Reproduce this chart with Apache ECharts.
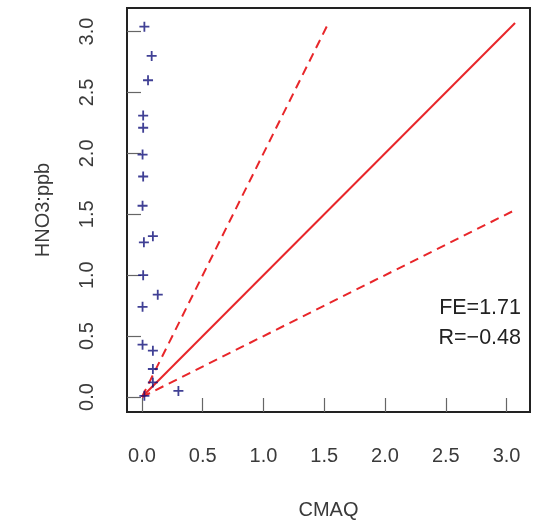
<!DOCTYPE html>
<html><head><meta charset="utf-8">
<script src="https://cdn.jsdelivr.net/npm/echarts@6/dist/echarts.min.js"></script>
<style>html,body{margin:0;padding:0;background:#fff}#c{width:537px;height:521px}</style>
</head><body><div id="c"></div>
<script>
// Observations: CMAQ (x) vs HNO3:ppb (y)
const cmaq = [0.02, 0.08, 0.05, 0.01, 0.01, 0.005, 0.01, 0.005, 0.016, 0.09, 0.01, 0.13, 0.005, 0.005, 0.09, 0.09, 0.09, 0.30, 0.02];
const hno3 = [3.04, 2.80, 2.60, 2.31, 2.21, 1.99, 1.81, 1.57, 1.27, 1.32, 1.00, 0.84, 0.74, 0.43, 0.38, 0.23, 0.12, 0.05, 0.01];
const lineMax = 3.07;
const oneToOne = [[0, 0], [lineMax, lineMax]];
const twoToOne = [[0, 0], [lineMax / 2, lineMax]];
const oneToTwo = [[0, 0], [lineMax, lineMax / 2]];
const tickValues = [0, 0.5, 1.0, 1.5, 2.0, 2.5, 3.0];
const statsText = ['FE=1.71', 'R=\u22120.48'];
const axisMin = -0.123, axisMax = 3.193;

const font = 'Liberation Sans, Arial, Helvetica, sans-serif';
const chart = echarts.init(document.getElementById('c'), null, {renderer: 'canvas'});
const axisCommon = {
  type: 'value', min: axisMin, max: axisMax,
  splitLine: {show: false},
  axisLine: {show: false, onZero: false},
  axisTick: {show: true, inside: true, length: 14, customValues: tickValues, lineStyle: {color: '#666', width: 1.2}},
  axisLabel: {customValues: tickValues, formatter: v => v.toFixed(1), color: '#3a3a3a', fontSize: 20, fontFamily: font},
  nameLocation: 'middle',
  nameTextStyle: {color: '#3a3a3a', fontSize: 20, fontFamily: font}
};
const plusSymbol = 'path://M0,-1 L0,1 M-1,0 L1,0';
chart.setOption({
  animation: false,
  backgroundColor: '#fff',
  grid: {left: 127, top: 8, right: 7, bottom: 109, outerBoundsMode: 'none', containLabel: false,
         show: true, borderColor: '#222', borderWidth: 2, backgroundColor: 'transparent'},
  xAxis: Object.assign({}, axisCommon, {name: 'CMAQ', nameGap: 88, axisLabel: Object.assign({}, axisCommon.axisLabel, {margin: 34})}),
  yAxis: Object.assign({}, axisCommon, {name: 'HNO3:ppb', nameGap: 74, axisLabel: Object.assign({}, axisCommon.axisLabel, {rotate: 90, margin: 30})}),
  series: [
    {type: 'line', data: oneToOne, showSymbol: false, lineStyle: {color: '#e8262a', width: 2}, z: 2},
    {type: 'line', data: twoToOne, showSymbol: false, lineStyle: {color: '#e8262a', width: 2, type: [9, 6]}, z: 2},
    {type: 'line', data: oneToTwo, showSymbol: false, lineStyle: {color: '#e8262a', width: 2, type: [9, 6]}, z: 2},
    {type: 'scatter', data: cmaq.map((x, i) => [x, hno3[i]]), symbol: plusSymbol, symbolSize: 10,
     itemStyle: {color: 'transparent', borderColor: '#10107a', borderWidth: 1.8}, z: 3}
  ],
  graphic: [
    {type: 'text', right: 16, top: 297, style: {text: statsText[0], fontSize: 21.5, fontFamily: font, fill: '#222'}},
    {type: 'text', right: 16, top: 327, style: {text: statsText[1], fontSize: 21.5, fontFamily: font, fill: '#222'}}
  ]
});
</script></body></html>
